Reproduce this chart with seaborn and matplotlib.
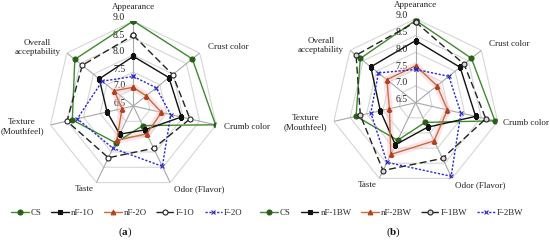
import numpy as np
import matplotlib
matplotlib.use("Agg")
import matplotlib.pyplot as plt
import seaborn as sns

sns.set_style("white")
plt.rcParams['font.family'] = ['Liberation Serif', 'DejaVu Serif']
plt.rcParams['mathtext.fontset'] = 'custom'
plt.rcParams['mathtext.rm'] = 'Liberation Serif'
plt.rcParams['mathtext.bf'] = 'Liberation Serif:bold'

categories = ["Appearance", "Crust color", "Crumb color", "Odor (Flavor)", "Taste",
              "Texture\n(Mouthfeel)", "Overall\nacceptability"]
scale_ticks = [6.5, 7.0, 7.5, 8.0, 8.5, 9.0]

# panel (a)
series_a_names = ["CS", "nF-1O", "nF-2O", "F-1O", "F-2O"]
cs_a = [9.00, 8.72, 8.98, 7.14, 7.70, 8.34, 8.70]
nf1o = [7.96, 7.84, 7.95, 7.28, 7.42, 7.29, 7.78]
nf2o = [7.05, 6.98, 7.35, 7.41, 7.62, 6.84, 7.22]
f1o = [8.58, 7.98, 8.21, 7.88, 8.19, 8.50, 8.42]
f2o = [7.37, 7.36, 7.63, 8.47, 7.88, 8.19, 7.67]

# panel (b)
series_b_names = ["CS", "nF-1BW", "nF-2BW", "F-1BW", "F-2BW"]
cs_b = [8.95, 8.62, 8.92, 7.15, 7.74, 8.32, 8.61]
nf1bw = [8.35, 8.19, 8.33, 7.31, 7.89, 7.58, 8.21]
nf2bw = [7.60, 7.31, 7.47, 7.76, 8.21, 7.30, 7.60]
f1bw = [8.90, 8.34, 8.64, 8.34, 8.74, 8.19, 8.77]
f2bw = [7.49, 7.76, 7.88, 8.93, 8.47, 7.87, 7.92]

W, H = 550, 247
fig = plt.figure(figsize=(W / 100, H / 100), dpi=100)

n = len(categories)
theta = np.linspace(0, 2 * np.pi, n, endpoint=False)
theta_c = np.append(theta, 2 * np.pi)


def make_styles(open_fill):
    return [
        dict(color="#3f8a2c", ls="-", marker="o", mfc="#2a5e17", mec="#2a5e17", ms=3.6, glow=None),
        dict(color="#111111", ls="-", marker="s", mfc="#111111", mec="#111111", ms=2.8, glow=None),
        dict(color="#c0703a", ls="-", marker="^", mfc="#b5401f", mec="#b5401f", ms=3.4, glow="#f9c4d1"),
        dict(color="#222222", ls=(0, (5, 2.5)), marker="o", mfc=open_fill, mec="#222222", ms=3.6, glow=None),
        dict(color="#2a2ac8", ls=(0, (1.6, 1.2)), marker="x", mfc="#2a2ac8", mec="#2a2ac8", ms=3.0, glow=None),
    ]


label_pos_a = [
    (9.40, "center", "center"),
    (9.30, "left", "center"),
    (9.23, "left", "center"),
    (9.23, "left", "center"),
    (9.21, "right", "center"),
    (9.20, "right", "center"),
    (9.24, "right", "center"),
]
label_pos_b = [
    (9.40, "center", "center"),
    (9.30, "left", "center"),
    (9.15, "left", "center"),
    (9.23, "left", "center"),
    (9.21, "right", "center"),
    (9.20, "right", "center"),
    (9.24, "right", "center"),
]


def radar(cx, cy, R, names, data, styles, label_pos, leg_center, cap_pos, cap):
    ax = fig.add_axes([(cx - R) / W, (H - cy - R) / H, 2 * R / W, 2 * R / H], projection="polar")
    ax.set_theta_zero_location("N")
    ax.set_theta_direction(-1)
    ax.set_ylim(6.5, 9.0)
    ax.grid(False)
    ax.spines["polar"].set_visible(False)
    ax.set_xticks([])
    ax.set_yticks([])
    ax.patch.set_alpha(0)
    # heptagon grid
    for v in scale_ticks[1:]:
        ax.plot(theta_c, [v] * (n + 1), color="#d6d6d6", lw=0.8, zorder=1)
    for t in theta:
        ax.plot([t, t], [6.5, 9.0], color="#a8a8a8", lw=0.8, zorder=1)
    for v in scale_ticks:
        ax.annotate(f"{v:.1f}", xy=(0, v), xytext=(-8, 3), textcoords="offset pixels",
                    ha="right", va="center", fontsize=7.0, color="#222222", zorder=2)
    handles = []
    for name, vals, st in zip(names, data, styles):
        vc = list(vals) + [vals[0]]
        if st["glow"]:
            sns.lineplot(x=theta_c, y=vc, ax=ax, sort=False, estimator=None,
                         color=st["glow"], lw=5, alpha=0.45, zorder=2,
                         solid_joinstyle="round", solid_capstyle="round")
        sns.lineplot(x=theta_c, y=vc, ax=ax, sort=False, estimator=None,
                     color=st["color"], linestyle=st["ls"], lw=1.0, marker=st["marker"],
                     markerfacecolor=st["mfc"], markeredgecolor=st["mec"], markersize=st["ms"],
                     markeredgewidth=0.8, zorder=4, label=name)
        handles.append(ax.lines[-1])
    ax.set_xlabel("")
    ax.set_ylabel("")
    for t, lab, (r, ha, va) in zip(theta, categories, label_pos):
        ax.text(t, r, lab, ha=ha, va=va, multialignment="center", fontsize=6.5,
                color="#222222", clip_on=False, linespacing=1.15)
    if ax.get_legend() is not None:
        ax.get_legend().remove()
    fig.legend(handles=handles, labels=names, loc="center",
               bbox_to_anchor=(leg_center[0] / W, 1 - leg_center[1] / H),
               ncol=5, frameon=False, fontsize=6.4, handlelength=2.0,
               handletextpad=0.2, columnspacing=1.1, borderpad=0.1)
    fig.text(cap_pos[0] / W, 1 - cap_pos[1] / H, "(" + r"$\mathbf{" + cap + "}$" + ")",
             ha="center", va="center", fontsize=8, color="#111111")
    return ax


radar(133.3, 106.0, 85, series_a_names, [cs_a, nf1o, nf2o, f1o, f2o], make_styles("white"),
      label_pos_a, (127, 213), (125, 232), "a")
radar(415.7, 102.7, 84, series_b_names, [cs_b, nf1bw, nf2bw, f1bw, f2bw], make_styles("#d9d9d9"),
      label_pos_b, (392, 213), (394, 232), "b")

fig.savefig("out.png", dpi=100)
